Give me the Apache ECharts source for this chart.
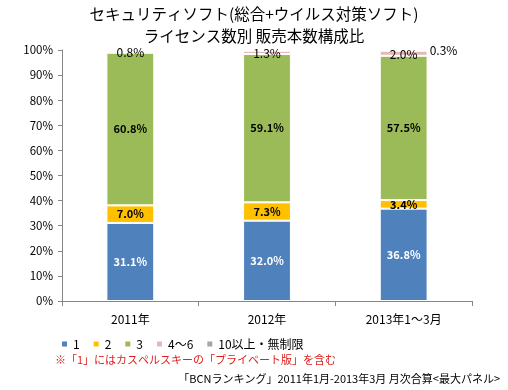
<!DOCTYPE html>
<html><head><meta charset="utf-8">
<script src="https://cdn.jsdelivr.net/npm/echarts@6/dist/echarts.min.js"></script>
<style>html,body{margin:0;padding:0;background:#fff}#c{width:508px;height:390px}</style>
</head><body><div id="c"></div>
<script>
const categories = ['2011年', '2012年', '2013年1〜3月'];
const seriesNames = ['1', '2', '3', '4〜6', '10以上・無制限'];
const s1 = [31.1, 32.0, 36.8];
const s2 = [7.0, 7.3, 3.4];
const s3 = [60.8, 59.1, 57.5];
const s4 = [0.8, 1.3, 2.0];
const s5 = [0, 0, 0.3];
const yTicks = [0, 10, 20, 30, 40, 50, 60, 70, 80, 90, 100];

const FONT = '"Noto Sans CJK JP", "DejaVu Sans", sans-serif';
const colors = ['#4F81BD', '#FFC000', '#9BBB59', '#E6B9B8', '#A6A6A6'];
const data = [s1, s2, s3, s4, s5];
const labelCfg = [
  {show: true, position: 'inside', color: '#fff', fontWeight: 'bold', fontSize: 11},
  {show: true, position: 'inside', color: '#000', fontWeight: 'bold', fontSize: 11},
  {show: true, position: 'inside', color: '#000', fontWeight: 'bold', fontSize: 11},
  {show: true, position: 'inside', color: '#000', fontSize: 12, offset: [0, 1]},
  {show: true, position: 'right', color: '#000', fontSize: 12, distance: 2, offset: [0, 0]}
];
const chart = echarts.init(document.getElementById('c'), null, {renderer: 'canvas'});
chart.setOption({
  animation: false,
  textStyle: {fontFamily: FONT},
  title: {
    text: 'セキュリティソフト(総合+ウイルス対策ソフト)\nライセンス数別 販売本数構成比',
    left: 'center', top: 3, padding: 0,
    textStyle: {fontFamily: FONT, fontSize: 15.5, fontWeight: 'normal', color: '#000', lineHeight: 22}
  },
  grid: {left: 62, right: 36, top: 50, bottom: 89},
  xAxis: {
    type: 'category', data: categories,
    axisLine: {lineStyle: {color: '#868686'}},
    axisTick: {show: true, length: 5, lineStyle: {color: '#868686'}},
    axisLabel: {color: '#000', fontSize: 12, margin: 12, fontFamily: FONT}
  },
  yAxis: {
    type: 'value', min: 0, max: 100, interval: 10,
    axisLine: {show: true, lineStyle: {color: '#868686'}},
    axisTick: {show: true, inside: false, length: 4, lineStyle: {color: '#868686'}},
    splitLine: {show: false},
    axisLabel: {color: '#000', fontSize: 11.5, margin: 9, fontFamily: FONT,
      formatter: v => yTicks.includes(v) ? v + '%' : ''}
  },
  legend: {
    data: seriesNames, left: 55, top: 333, itemWidth: 7, itemHeight: 7, itemGap: 12,
    icon: 'rect',
    textStyle: {fontSize: 12, color: '#000', fontFamily: FONT}
  },
  graphic: [
    {type: 'text', left: 55, top: 354, style: {text: '※「1」にはカスペルスキーの「プライベート版」を含む', fill: '#E0201E', font: '11px ' + FONT}},
    {type: 'text', right: 8, top: 373, style: {text: '「BCNランキング」2011年1月-2013年3月 月次合算<最大パネル>', fill: '#000', font: '11px ' + FONT}}
  ],
  series: seriesNames.map((n, i) => ({
    name: n, type: 'bar', stack: 'total', barWidth: '35%',
    data: data[i],
    itemStyle: {color: colors[i], borderColor: '#fff', borderWidth: 1},
    label: Object.assign({fontFamily: FONT, formatter: p => p.value > 0 ? p.value.toFixed(1) + '%' : ''}, labelCfg[i])
  }))
});
</script></body></html>
